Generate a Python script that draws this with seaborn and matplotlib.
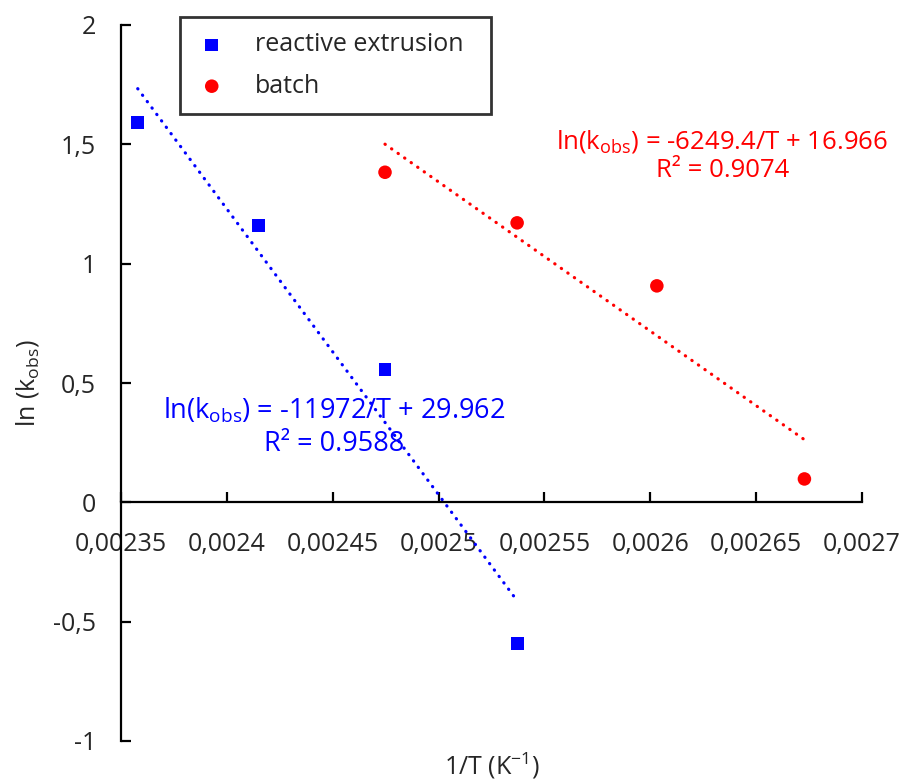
import matplotlib
matplotlib.use('Agg')
import matplotlib.pyplot as plt
import seaborn as sns
import numpy as np
import pandas as pd
from matplotlib.ticker import FuncFormatter

# data
inv_T_extrusion = [0.0023579, 0.0024148, 0.0024747, 0.0025371]
lnk_extrusion = [1.591, 1.160, 0.557, -0.591]
inv_T_batch = [0.0024747, 0.0025371, 0.0026031, 0.0026728]
lnk_batch = [1.383, 1.171, 0.907, 0.098]

# trendline coefficients as printed on the chart
fit_extrusion = (-11972, 29.962, 0.9588)
fit_batch = (-6249.4, 16.966, 0.9074)

x_ticks = [0.00235, 0.0024, 0.00245, 0.0025, 0.00255, 0.0026, 0.00265, 0.0027]
y_ticks = [-1, -0.5, 0, 0.5, 1, 1.5, 2]

BLUE = '#0000FF'
RED = '#FF0000'
TXT = '#262626'

sns.set_style('white')
plt.rcParams['font.family'] = ['Open Sans', 'DejaVu Sans']
plt.rcParams['mathtext.fontset'] = 'custom'
plt.rcParams['mathtext.rm'] = 'Open Sans'

fig = plt.figure(figsize=(9.06, 7.8), dpi=100)
ax = fig.add_axes([121 / 906, 1 - 741 / 780, 741 / 906, 716 / 780])

df_ext = pd.DataFrame({'x': inv_T_extrusion, 'y': lnk_extrusion})
df_bat = pd.DataFrame({'x': inv_T_batch, 'y': lnk_batch})

# dotted trendlines over the range of each series
for df, (m, b, r2), col in [(df_ext, fit_extrusion, BLUE), (df_bat, fit_batch, RED)]:
    xs = np.array([df['x'].min(), df['x'].max()])
    sns.lineplot(x=xs, y=m * xs + b, ax=ax, color=col, lw=2.3,
                 linestyle=(0, (0.1, 2.4)), dash_capstyle='round', zorder=2)

sns.scatterplot(data=df_ext, x='x', y='y', ax=ax, marker='s', s=85, color=BLUE,
                edgecolor='none', label='reactive extrusion', zorder=3)
sns.scatterplot(data=df_bat, x='x', y='y', ax=ax, marker='o', s=95, color=RED,
                edgecolor='none', label='batch', zorder=3)

ax.set_xlim(0.00235, 0.0027)
ax.set_ylim(-1, 2)
ax.set_xticks(x_ticks)
ax.set_yticks(y_ticks)
fmt = FuncFormatter(lambda v, p: format(v, 'g').replace('.', ','))
ax.xaxis.set_major_formatter(fmt)
ax.yaxis.set_major_formatter(fmt)

for s in ['top', 'right']:
    ax.spines[s].set_visible(False)
ax.spines['bottom'].set_position(('data', 0))
for s in ['bottom', 'left']:
    ax.spines[s].set_linewidth(1.6)
    ax.spines[s].set_color('black')
ax.tick_params(axis='both', bottom=True, left=True, direction='in', length=7, width=1.6,
               color='black', labelsize=18, labelcolor=TXT)
ax.tick_params(axis='x', pad=21)
ax.tick_params(axis='y', pad=18)

ax.set_xlabel(r'1/T (K$^{\mathregular{-1}}$)', fontsize=18, color=TXT)
ax.xaxis.set_label_coords(0.5, -0.034)
ax.xaxis.label.set_va('center')
ax.set_ylabel(r'ln (k$_{\mathregular{obs}}$)', fontsize=18, color=TXT)
ax.yaxis.set_label_coords(-0.126, 0.5)
ax.yaxis.label.set_va('center')

ax.text(0.002634, 1.453, 'ln(k$_{\\mathregular{obs}}$) = %g/T + %g\nR² = %g' % fit_batch,
        color=RED, fontsize=18.5, ha='center', va='center', multialignment='center')
ax.text(0.0024505, 0.317, 'ln(k$_{\\mathregular{obs}}$) = %g/T + %g\nR² = %g' % fit_extrusion,
        color=BLUE, fontsize=19.5, ha='center', va='center', multialignment='center')

leg = ax.legend(loc='upper left', bbox_to_anchor=(180 / 906, 1 - 110 / 780, 311 / 906, 93 / 780),
                bbox_transform=fig.transFigure, mode='expand', fontsize=18, frameon=True,
                fancybox=False, borderpad=0.62, labelspacing=0.65, handletextpad=1.08,
                handlelength=1.3, borderaxespad=0)
leg.get_frame().set_edgecolor('black')
leg.get_frame().set_linewidth(2)
for t in leg.get_texts():
    t.set_color(TXT)

fig.savefig('out.png', dpi=100)
